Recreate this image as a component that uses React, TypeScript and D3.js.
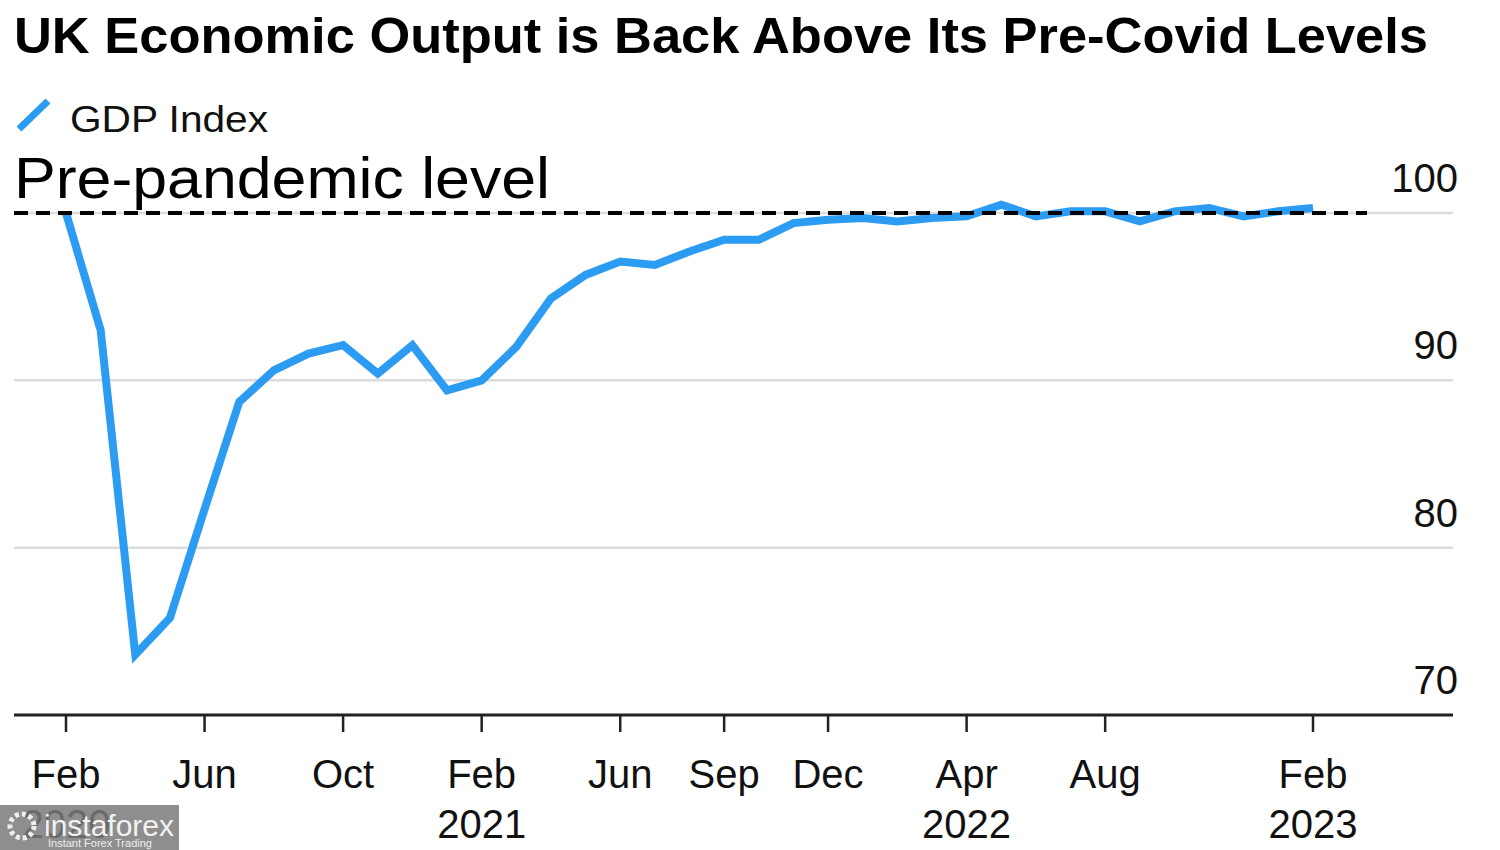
import React, { useRef, useEffect } from 'react';
import * as d3 from 'd3';

// monthly GDP index, Feb 2020 = 100
const months = [
  '2020-02', '2020-03', '2020-04', '2020-05', '2020-06', '2020-07', '2020-08', '2020-09',
  '2020-10', '2020-11', '2020-12', '2021-01', '2021-02', '2021-03', '2021-04', '2021-05',
  '2021-06', '2021-07', '2021-08', '2021-09', '2021-10', '2021-11', '2021-12', '2022-01',
  '2022-02', '2022-03', '2022-04', '2022-05', '2022-06', '2022-07', '2022-08', '2022-09',
  '2022-10', '2022-11', '2022-12', '2023-01', '2023-02',
];
const gdpIndex = [
  100, 93.0, 73.6, 75.8, 82.3, 88.7, 90.6, 91.6,
  92.1, 90.4, 92.1, 89.4, 90.0, 92.0, 94.9, 96.3,
  97.1, 96.9, 97.7, 98.4, 98.4, 99.4, 99.6, 99.7,
  99.5, 99.7, 99.8, 100.5, 99.8, 100.1, 100.1, 99.5,
  100.1, 100.3, 99.8, 100.1, 100.3,
];

const xTicks = ['2020-02', '2020-06', '2020-10', '2021-02', '2021-06', '2021-09', '2021-12', '2022-04', '2022-08', '2023-02'];
const xTickLabels = ['Feb', 'Jun', 'Oct', 'Feb', 'Jun', 'Sep', 'Dec', 'Apr', 'Aug', 'Feb'];
const yearTicks = ['2020-02', '2021-02', '2022-04', '2023-02'];
const yearLabels = ['2020', '2021', '2022', '2023'];
const yTicks = [70, 80, 90, 100];
const preCovidLevel = 100;

const BLUE = '#2c9cf2';
const FONT = '"Liberation Sans", Arial, Helvetica, sans-serif';

function App() {
  const rootRef = useRef<SVGSVGElement>(null);
  const width = 1500;
  const height = 850;

  useEffect(() => {
    document.body.style.margin = '0';
    const root = d3.select(rootRef.current);
    root.selectAll('*').remove();
    root.attr('viewBox', `0 0 ${width} ${height}`);

    const x = d3.scalePoint<string>().domain(months).range([66, 1313]);
    const y = d3.scaleLinear().domain([70, 100]).range([715, 213]);

    root.append('rect').attr('width', width).attr('height', height).attr('fill', '#fff');

    // title
    root.append('text')
      .attr('x', 14).attr('y', 53)
      .attr('font-family', FONT).attr('font-weight', 'bold').attr('font-size', 50)
      .attr('textLength', 1414).attr('lengthAdjust', 'spacingAndGlyphs')
      .attr('fill', '#000')
      .text('UK Economic Output is Back Above Its Pre-Covid Levels');

    // legend
    root.append('line')
      .attr('x1', 19).attr('y1', 129).attr('x2', 48).attr('y2', 101)
      .attr('stroke', BLUE).attr('stroke-width', 7);
    root.append('text')
      .attr('x', 70).attr('y', 132)
      .attr('font-family', FONT).attr('font-size', 36).attr('fill', '#111')
      .attr('textLength', 198).attr('lengthAdjust', 'spacingAndGlyphs')
      .text('GDP Index');

    // gridlines (70 is the axis)
    root.append('g').selectAll('line')
      .data(yTicks.filter(d => d !== 70))
      .join('line')
      .attr('x1', 14).attr('x2', 1453)
      .attr('y1', d => y(d)).attr('y2', d => y(d))
      .attr('stroke', '#dcdcdc').attr('stroke-width', 2.5);

    // y labels, sitting above their lines
    root.append('g').selectAll('text')
      .data(yTicks)
      .join('text')
      .attr('x', 1458).attr('y', d => y(d) - 21)
      .attr('text-anchor', 'end')
      .attr('font-family', FONT).attr('font-size', 40).attr('fill', '#111')
      .text(d => d);

    // the line
    const line = d3.line<number>()
      .x((_, i) => x(months[i]) as number)
      .y(d => y(d));
    root.append('path')
      .datum(gdpIndex)
      .attr('d', line)
      .attr('fill', 'none')
      .attr('stroke', BLUE)
      .attr('stroke-width', 8)
      .attr('stroke-linejoin', 'miter');

    // pre-pandemic level
    root.append('line')
      .attr('x1', 14).attr('x2', 1367)
      .attr('y1', y(preCovidLevel)).attr('y2', y(preCovidLevel))
      .attr('stroke', '#000').attr('stroke-width', 4)
      .attr('stroke-dasharray', '14 8');
    root.append('text')
      .attr('x', 14).attr('y', 198)
      .attr('font-family', FONT).attr('font-size', 58).attr('fill', '#000')
      .attr('textLength', 536).attr('lengthAdjust', 'spacingAndGlyphs')
      .text('Pre-pandemic level');

    // x axis
    root.append('line')
      .attr('x1', 14).attr('x2', 1453).attr('y1', 715).attr('y2', 715)
      .attr('stroke', '#222').attr('stroke-width', 3);
    const xt = root.append('g');
    xt.selectAll('line')
      .data(xTicks)
      .join('line')
      .attr('x1', d => x(d) as number).attr('x2', d => x(d) as number)
      .attr('y1', 715).attr('y2', 732)
      .attr('stroke', '#222').attr('stroke-width', 2.5);
    xt.selectAll('text.m')
      .data(xTicks)
      .join('text')
      .attr('class', 'm')
      .attr('x', d => x(d) as number).attr('y', 788)
      .attr('text-anchor', 'middle')
      .attr('font-family', FONT).attr('font-size', 40).attr('fill', '#111')
      .text((_, i) => xTickLabels[i]);
    xt.selectAll('text.yr')
      .data(yearTicks)
      .join('text')
      .attr('class', 'yr')
      .attr('x', d => x(d) as number).attr('y', 838)
      .attr('text-anchor', 'middle')
      .attr('font-family', FONT).attr('font-size', 40).attr('fill', '#111')
      .text((_, i) => yearLabels[i]);

    // watermark box (covers the 2020 label, as in the source image)
    const wm = root.append('g');
    wm.append('rect')
      .attr('x', 0).attr('y', 805).attr('width', 179).attr('height', 45)
      .attr('fill', '#7a7a7a').attr('opacity', 0.85);
    wm.append('circle')
      .attr('cx', 22).attr('cy', 826).attr('r', 12)
      .attr('fill', 'none').attr('stroke', '#eee').attr('stroke-width', 5)
      .attr('stroke-dasharray', '4 3');
    wm.append('text')
      .attr('x', 44).attr('y', 836)
      .attr('font-family', FONT).attr('font-size', 30).attr('fill', '#f2f2f2')
      .attr('textLength', 130).attr('lengthAdjust', 'spacingAndGlyphs')
      .text('instaforex');
    wm.append('text')
      .attr('x', 48).attr('y', 847)
      .attr('font-family', FONT).attr('font-size', 11).attr('fill', '#eee')
      .text('Instant Forex Trading');
  }, []);

  return (
    <svg ref={rootRef} style={{ display: 'block', width: 1500, height: 850 }}></svg>
  );
}

export default App;
